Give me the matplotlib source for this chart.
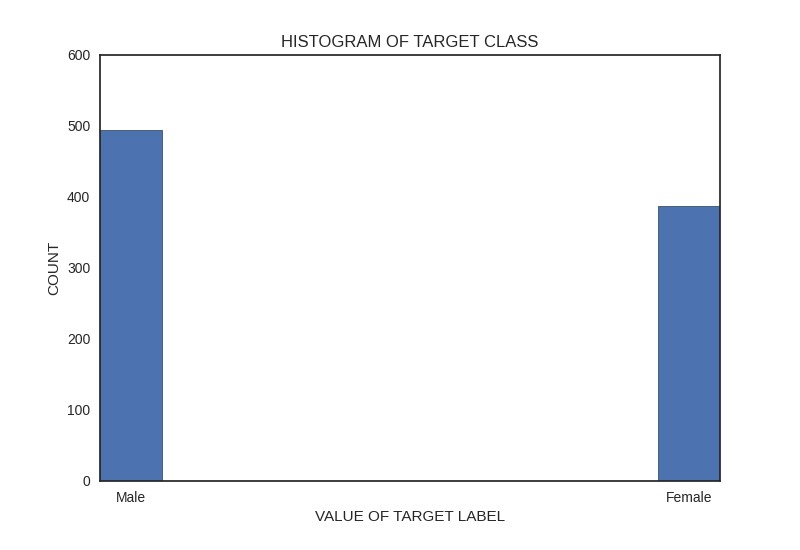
import matplotlib
matplotlib.use("Agg")
import matplotlib.pyplot as plt

# target class values (0 = Male, 1 = Female) and their counts
class_values = [0, 1]
class_counts = [494, 388]
tick_positions = [0.05, 0.95]
tick_labels = ["Male", "Female"]

plt.rcParams["font.family"] = ["Liberation Sans", "DejaVu Sans"]

fig = plt.figure(figsize=(8, 5.5), dpi=100)
ax = fig.add_axes([0.125, 0.1255, 0.775, 0.7745])

ax.hist(class_values, bins=10, range=(0, 1), weights=class_counts,
        color="#4C72B0", edgecolor="#3b4f6e", linewidth=0.6)

ax.set_xlim(0, 1)
ax.set_ylim(0, 600)
ax.set_xticks(tick_positions)
ax.set_xticklabels(tick_labels)
ax.tick_params(axis="both", length=0, labelsize=10, colors="#262626", pad=7)

for spine in ax.spines.values():
    spine.set_color("#262626")
    spine.set_linewidth(1.25)

ax.set_title("HISTOGRAM OF TARGET CLASS", fontsize=12, color="#262626")
ax.set_xlabel("VALUE OF TARGET LABEL", fontsize=11, color="#262626")
ax.set_ylabel("COUNT", fontsize=11, color="#262626")

fig.savefig("out.png", dpi=100)
